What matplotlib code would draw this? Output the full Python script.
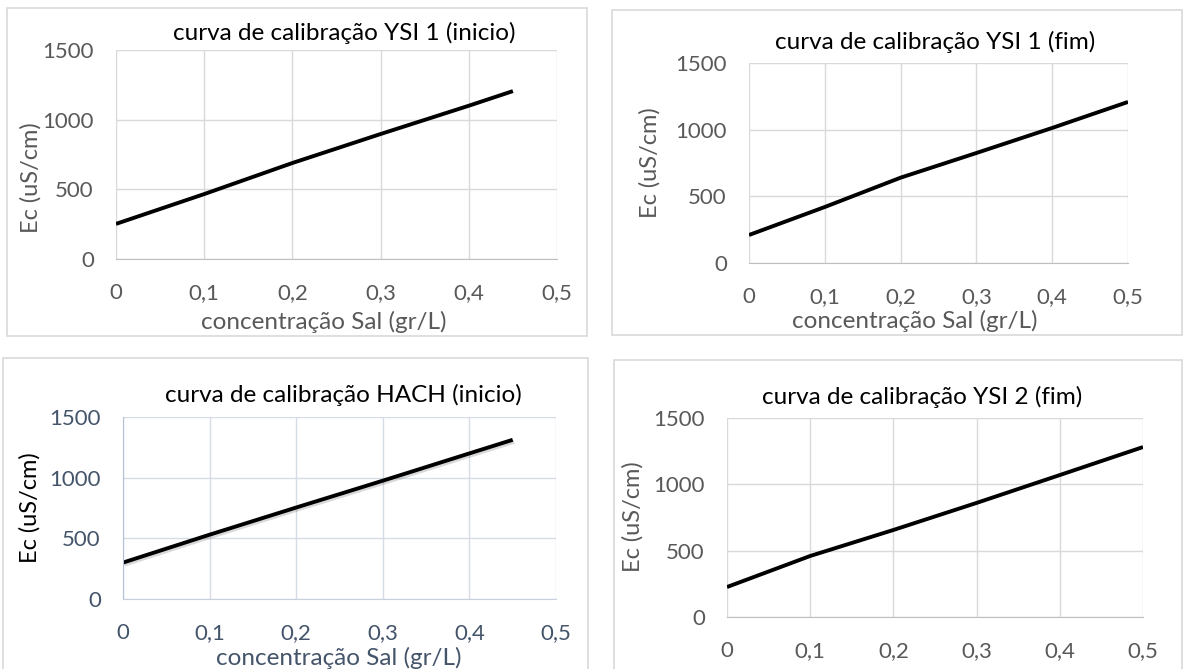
import matplotlib as mpl
mpl.use('Agg')
import matplotlib.pyplot as plt
from matplotlib.patches import Rectangle
import matplotlib.patheffects as pe

W, H = 1184, 669
plt.rcParams['font.family'] = ['Lato', 'DejaVu Sans']

# data
sal_ysi1_ini = [0, 0.1, 0.2, 0.3, 0.4, 0.45]
ec_ysi1_ini = [252, 466, 689, 897, 1100, 1205]
sal_ysi1_fim = [0, 0.1, 0.2, 0.3, 0.4, 0.5]
ec_ysi1_fim = [210, 420, 640, 825, 1013, 1208]
sal_hach_ini = [0, 0.1, 0.2, 0.3, 0.4, 0.45]
ec_hach_ini = [300, 530, 754, 975, 1200, 1312]
sal_ysi2_fim = [0, 0.1, 0.2, 0.3, 0.4, 0.5]
ec_ysi2_fim = [226, 460, 656, 860, 1070, 1281]

titles = ['curva de calibração YSI 1 (inicio)', 'curva de calibração YSI 1 (fim)',
          'curva de calibração HACH (inicio)', 'curva de calibração YSI 2 (fim)']
xlabel = 'concentração Sal (gr/L)'
ylabel = 'Ec (uS/cm)'
xticks = [0, 0.1, 0.2, 0.3, 0.4, 0.5]
xticklabels = ['0', '0,1', '0,2', '0,3', '0,4', '0,5']
yticks = [0, 500, 1000, 1500]

fig = plt.figure(figsize=(W/100, H/100), dpi=100)

def fx(px):
    return px/W

def fy(py):
    return 1 - py/H

# pixel layout: border box, plot box, title pos, ylabel pos, xlabel pos, x tick pad
panels = [
    dict(x=sal_ysi1_ini, y=ec_ysi1_ini, border=(7, 8, 587, 336), plot=(116, 50, 557, 259),
         title=(344, 33), ylab=(31, 178), xlab=(324, 322), xpad=17, tickc='#595959', ylabc='#595959'),
    dict(x=sal_ysi1_fim, y=ec_ysi1_fim, border=(612, 10, 1182, 335), plot=(749, 63, 1128, 263),
         title=(935, 42), ylab=(650, 163), xlab=(915, 321), xpad=17, tickc='#595959', ylabc='#595959'),
    dict(x=sal_hach_ini, y=ec_hach_ini, border=(3, 358, 588, 700), plot=(123, 417, 556, 599),
         title=(343, 395), ylab=(30, 508), xlab=(339, 658), xpad=17, tickc='#44546A', ylabc='black'),
    dict(x=sal_ysi2_fim, y=ec_ysi2_fim, border=(614, 360, 1182, 700), plot=(727, 418, 1143, 617),
         title=(922, 397), ylab=(633, 517), xlab=None, xpad=17, tickc='#595959', ylabc='#595959'),
]

for i, p in enumerate(panels):
    bx0, by0, bx1, by1 = p['border']
    fig.patches.append(Rectangle((fx(bx0), fy(by1)), fx(bx1-bx0), (by1-by0)/H,
                                 transform=fig.transFigure, fill=False,
                                 edgecolor='#D9D9D9', linewidth=1.2))
    px0, py0, px1, py1 = p['plot']
    ax = fig.add_axes([fx(px0), fy(py1), fx(px1-px0), (py1-py0)/H])
    line, = ax.plot(p['x'], p['y'], color='black', linewidth=2.8, solid_capstyle='butt')
    if i == 2:
        line.set_path_effects([pe.SimpleLineShadow(offset=(1, -1.5), alpha=0.15), pe.Normal()])
    ax.set_xlim(0, 0.5)
    ax.set_ylim(0, 1500)
    ax.set_xticks(xticks)
    ax.set_xticklabels(xticklabels)
    ax.set_yticks(yticks)
    ax.grid(True, color='#D9D9D9', linewidth=1)
    ax.set_axisbelow(True)
    for s in ['top', 'right', 'left']:
        ax.spines[s].set_visible(False)
    ax.spines['bottom'].set_color('#BFBFBF')
    if i == 2:
        ax.spines['left'].set_visible(True)
        ax.spines['left'].set_color('#B4C0D3')
        ax.spines['bottom'].set_color('#C9D1DE')
        ax.grid(True, color='#D6DCE5', linewidth=1)
    ax.tick_params(length=0, labelsize=16, colors=p['tickc'])
    ax.tick_params(axis='y', pad=16)
    ax.tick_params(axis='x', pad=p['xpad'])
    fig.text(fx(p['title'][0]), fy(p['title'][1]), titles[i], ha='center', va='center',
             fontsize=17.5, color='black')
    fig.text(fx(p['ylab'][0]), fy(p['ylab'][1]), ylabel, ha='center', va='center',
             rotation=90, fontsize=17, color=p['ylabc'])
    if p['xlab'] is not None:
        fig.text(fx(p['xlab'][0]), fy(p['xlab'][1]), xlabel, ha='center', va='center',
                 fontsize=17.5, color=p['tickc'])

plt.savefig('out.png', dpi=100)
plt.close()
